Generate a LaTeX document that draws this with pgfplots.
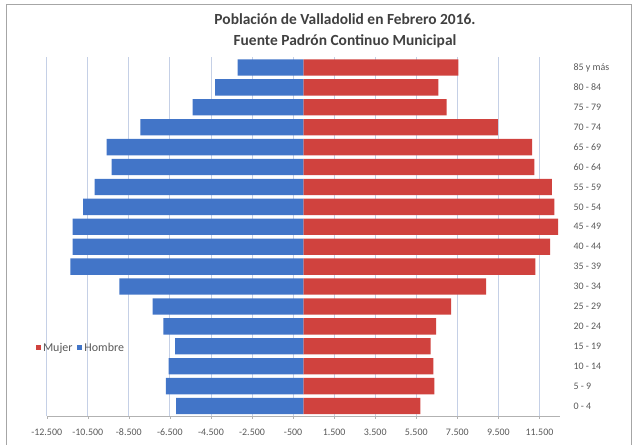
\documentclass[border=0pt]{standalone}
\usepackage{pgfplots}
\pgfplotsset{compat=1.18}
\usepackage{fontspec}
\setmainfont{Carlito}
\definecolor{hombre}{RGB}{66,117,200}
\definecolor{mujer}{RGB}{208,66,62}
\definecolor{gridc}{RGB}{197,208,230}
\definecolor{txt}{RGB}{89,89,89}
\begin{document}
\begin{tikzpicture}[x=1bp,y=1bp]
\path[use as bounding box] (0,0) rectangle (636,446);
\draw[gray!70, line width=1bp] (6,1) -- (6,441) -- (631,441) -- (631,1);
\begin{axis}[
  at={(46.7bp,30bp)}, anchor=south west,
  scale only axis, width=513.3bp, height=358.5bp,
  xmin=-12500, xmax=12500,
  ymin=-0.5, ymax=17.5,
  xbar, bar width=0.82, bar shift=0pt,
  axis y line*=right, y axis line style={draw=none},
  axis x line*=bottom, x axis line style={draw=gray!60, -},
  xtick={-12500,-10500,-8500,-6500,-4500,-2500,-500,1500,3500,5500,7500,9500,11500},
  xticklabels={-12.500,-10.500,-8.500,-6.500,-4.500,-2.500,-500,1.500,3.500,5.500,7.500,9.500,11.500},
  xmajorgrids, grid style={gridc, line width=0.8bp},
  ytick={0,...,17},
  yticklabels={0 - 4,5 - 9,10 - 14,15 - 19,20 - 24,25 - 29,30 - 34,35 - 39,40 - 44,45 - 49,50 - 54,55 - 59,60 - 64,65 - 69,70 - 74,75 - 79,80 - 84,85 y más},
  yticklabel pos=right,
  ytick style={draw=none},
  xtick style={draw=gray!60},
  tick align=outside, major tick length=3bp,
  yticklabel style={anchor=west, xshift=7bp, font=\fontsize{10}{12}\selectfont, text=txt},
  xticklabel style={font=\fontsize{10}{12}\selectfont, text=txt, yshift=-6.5bp},
  legend style={at={(-0.027,0.19)}, anchor=west, draw=none, fill=none,
    legend columns=2, font=\fontsize{12}{14}\selectfont, text=txt,
    /tikz/every even column/.append style={column sep=3bp}},
  legend image code/.code={\fill[#1] (0bp,-2.5bp) rectangle (5bp,2.5bp);},
]
\addplot[fill=mujer, draw=none] coordinates {
(5700,0) (6380,1) (6330,2) (6200,3) (6470,4) (7200,5) (8900,6) (11300,7) (12020,8)
(12410,9) (12230,10) (12100,11) (11250,12) (11140,13) (9470,14) (6980,15) (6580,16) (7550,17)};
\addlegendentry{Mujer}
\addplot[fill=hombre, draw=none] coordinates {
(-6200,0) (-6690,1) (-6560,2) (-6250,3) (-6820,4) (-7340,5) (-8960,6) (-11350,7) (-11240,8)
(-11240,9) (-10720,10) (-10170,11) (-9340,12) (-9580,13) (-7940,14) (-5390,15) (-4300,16) (-3200,17)};
\addlegendentry{Hombre}
\end{axis}
\node[font=\fontsize{15.5}{20.5}\selectfont\bfseries, text=black!75, align=center] at (345,415) {Población de Valladolid en Febrero 2016.\\Fuente Padrón Continuo Municipal};
\end{tikzpicture}
\end{document}
